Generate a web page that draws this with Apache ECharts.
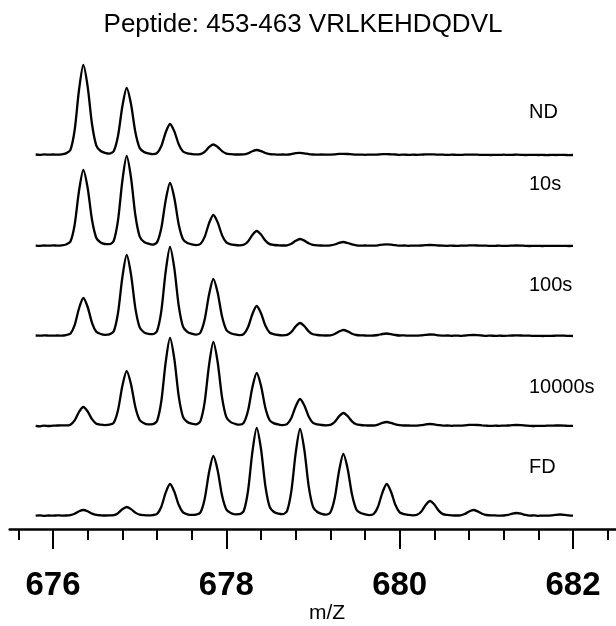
<!DOCTYPE html>
<html>
<head>
<meta charset="utf-8">
<script src="https://cdn.jsdelivr.net/npm/echarts@6/dist/echarts.min.js"></script>
<style>
html, body { margin: 0; padding: 0; background: #fff; }
#main { width: 616px; height: 626px; }
</style>
</head>
<body>
<div id="main"></div>
<script>
// m/z sampling points (shared by all spectra)
var mz = [
	675.8, 675.85, 675.9, 675.95, 676, 676.05, 676.1, 676.15, 676.2, 676.25,
	676.3, 676.35, 676.4, 676.45, 676.5, 676.55, 676.6, 676.65, 676.7, 676.75,
	676.8, 676.85, 676.9, 676.95, 677, 677.05, 677.1, 677.15, 677.2, 677.25,
	677.3, 677.35, 677.4, 677.45, 677.5, 677.55, 677.6, 677.65, 677.7, 677.75,
	677.8, 677.85, 677.9, 677.95, 678, 678.05, 678.1, 678.15, 678.2, 678.25,
	678.3, 678.35, 678.4, 678.45, 678.5, 678.55, 678.6, 678.65, 678.7, 678.75,
	678.8, 678.85, 678.9, 678.95, 679, 679.05, 679.1, 679.15, 679.2, 679.25,
	679.3, 679.35, 679.4, 679.45, 679.5, 679.55, 679.6, 679.65, 679.7, 679.75,
	679.8, 679.85, 679.9, 679.95, 680, 680.05, 680.1, 680.15, 680.2, 680.25,
	680.3, 680.35, 680.4, 680.45, 680.5, 680.55, 680.6, 680.65, 680.7, 680.75,
	680.8, 680.85, 680.9, 680.95, 681, 681.05, 681.1, 681.15, 681.2, 681.25,
	681.3, 681.35, 681.4, 681.45, 681.5, 681.55, 681.6, 681.65, 681.7, 681.75,
	681.8, 681.85, 681.9, 681.95, 682
];

// intensities
var ND = [
	0.5, 0.2, 0.6, 0.3, 0.5, 0.4, 0.6, 1.6, 4.8, 25, 65,
	90, 68.4, 31, 9.4, 4, 2.2, 1.4, 3.7, 19, 48.5,
	67, 51, 23, 7, 3, 1.6, 0.8, 1.9, 9, 22.5,
	31, 23.6, 10.8, 3.5, 1.6, 1, 0.6, 0.9, 3.2, 7.8,
	10.5, 8, 3.9, 1.4, 0.8, 0.5, 0.5, 0.6, 1.7, 3.8,
	5, 3.9, 2, 0.9, 0.6, 0.4, 0.5, 0.4, 0.9, 1.9,
	2.2, 1.7, 0.9, 0.5, 0.3, 0.5, 0.3, 0.4, 0.6, 1.1,
	1.2, 1, 0.6, 0.3, 0.4, 0.2, 0.4, 0.3, 0.5, 0.8,
	0.9, 0.7, 0.5, 0.2, 0.4, 0.1, 0.3, 0.2, 0.4, 0.6,
	0.7, 0.6, 0.3, 0.3, 0.1, 0.3, 0.2, 0.1, 0.3, 0.3,
	0.4, 0.3, 0.1, 0.2, 0, 0.2, 0.1, 0.3, 0.1, 0.2,
	0.3, 0.2, 0, 0.1, 0.2, 0, 0.1, -0.1, 0.1, 0,
	0.2, 0.1, -0.1, 0
];
var T10s = [
	0.4, 0.2, 0.5, 0.3, 0.6, 0.4, 0.6, 1.5, 4.2, 21.3, 55,
	76, 58, 26.2, 8, 3.5, 2, 1.8, 5, 25.6, 65,
	90, 68.4, 31, 9.5, 4.1, 2.3, 1.4, 3.6, 18, 45.6,
	63, 48, 21.8, 6.8, 3, 1.7, 0.9, 2, 9.1, 22.6,
	31, 23.6, 10.9, 3.6, 1.7, 1, 0.7, 1.2, 4.6, 11,
	15, 11.4, 5.4, 1.9, 1, 0.7, 0.5, 0.7, 2.3, 5.2,
	7, 5.4, 2.7, 1.1, 0.6, 0.5, 0.4, 0.6, 1.5, 3.1,
	4, 3, 1.6, 0.7, 0.4, 0.5, 0.3, 0.4, 0.7, 1.4,
	1.6, 1.3, 0.8, 0.3, 0.5, 0.2, 0.4, 0.3, 0.5, 0.9,
	1, 0.9, 0.5, 0.3, 0.2, 0.4, 0.1, 0.3, 0.3, 0.6,
	0.6, 0.5, 0.3, 0.3, 0.1, 0.2, 0.3, 0.1, 0.2, 0.4,
	0.5, 0.4, 0.2, 0, 0.2, 0.1, 0, 0.2, 0.1, 0.1,
	0.2, 0.2, 0, 0.1
];
var T100s = [
	0.5, 0.3, 0.6, 0.4, 0.3, 0.5, 0.4, 0.9, 2.2, 10.9, 27.5,
	38, 29, 13.2, 4.2, 2, 1.2, 1.6, 4.5, 23, 58.5,
	81, 61.6, 27.9, 8.6, 3.7, 2.1, 1.8, 4.9, 25.2, 64.3,
	89, 67.6, 30.6, 9.3, 4.1, 2.3, 1.3, 3.3, 16.4, 41.2,
	57, 43.3, 19.7, 6.1, 2.8, 1.6, 0.9, 1.9, 8.7, 21.8,
	30, 22.8, 10.5, 3.4, 1.7, 1, 0.7, 1.1, 4, 9.6,
	13, 9.9, 4.7, 1.7, 1, 0.6, 0.5, 0.6, 2, 4.5,
	6, 4.6, 2.3, 1, 0.6, 0.5, 0.3, 0.5, 1, 2,
	2.5, 1.9, 1, 0.5, 0.6, 0.3, 0.4, 0.3, 0.7, 1.2,
	1.5, 1.3, 0.7, 0.3, 0.5, 0.2, 0.4, 0.2, 0.5, 0.8,
	1, 0.9, 0.5, 0.2, 0.4, 0.1, 0.3, 0.2, 0.3, 0.5,
	0.6, 0.5, 0.3, 0.3, 0.1, 0.2, 0, 0.2, 0.2, 0.3,
	0.4, 0.3, 0.1, 0
];
var T10000s = [
	0.2, -0.3, 0.4, 0, 0.3, 0.5, 0.6, 0.6, 1.3, 5.6, 14,
	19, 14.5, 6.8, 2.3, 1.3, 0.9, 1.3, 3.2, 15.8, 40,
	55, 41.8, 19, 6, 2.7, 1.6, 1.8, 4.9, 25, 63.6,
	88, 67, 30.2, 9.2, 4, 2.3, 1.7, 4.7, 23.9, 60.7,
	84, 63.8, 28.9, 8.8, 3.9, 2.2, 1.3, 3.1, 15.2, 38.4,
	53, 40.3, 18.3, 5.8, 2.6, 1.6, 0.9, 1.8, 8, 19.6,
	27, 20.5, 9.5, 3.1, 1.6, 1, 0.7, 1.1, 4, 9.6,
	13, 9.9, 4.7, 1.7, 1, 0.7, 0.5, 0.5, 1.4, 3.1,
	4, 3.1, 1.7, 0.8, 0.5, 0.5, 0.3, 0.4, 0.8, 1.6,
	2, 1.6, 0.9, 0.4, 0.5, 0.2, 0.4, 0.3, 0.6, 1.1,
	1.2, 1, 0.6, 0.3, 0.1, 0.3, 0.2, 0.4, 0.5, 0.9,
	1, 0.9, 0.5, 0.2, 0, 0.2, 0.1, 0.3, 0.3, 0.5,
	0.5, 0.4, 0.1, 0.1
];
var FD = [
	0.3, 0.6, 0.2, 0.5, 0.3, 0.7, 0.4, 0.5, 0.9, 2.2, 4.7,
	6, 4.7, 2.4, 1.1, 0.7, 0.5, 0.6, 0.8, 2.8, 6.7,
	9, 6.9, 3.4, 1.3, 0.8, 0.6, 0.9, 2, 9.3, 23.3,
	32, 24.3, 11.2, 3.6, 1.7, 1.1, 1.3, 3.4, 17.1, 43.4,
	60, 45.6, 20.7, 6.4, 2.9, 1.7, 1.8, 4.9, 25, 63.6,
	88, 67, 30.2, 9.2, 4, 2.3, 1.8, 4.8, 24.8, 62.8,
	87, 66.1, 29.9, 9.1, 4, 2.2, 1.4, 3.5, 17.7, 44.8,
	62, 47.1, 21.4, 6.6, 3, 1.7, 0.9, 2, 9.3, 23.2,
	32, 24.3, 11.2, 3.6, 1.8, 1.1, 0.7, 1.2, 4.6, 11,
	15, 11.4, 5.4, 1.9, 1.1, 0.7, 0.5, 0.7, 2, 4.5,
	6, 4.6, 2.3, 1, 0.6, 0.6, 0.3, 0.5, 1.1, 2.4,
	3, 2.3, 1.1, 0.4, 0.6, 0.2, 0.4, 0.3, 0.6, 1.2,
	1.5, 1.2, 0.6, 0.3
];

var traceNames = ["ND", "10s", "100s", "10000s", "FD"];
var traces = [ND, T10s, T100s, T10000s, FD];

// layout (px)
var baseY = [155, 246, 336, 426, 516];
var nameY = [112, 184, 285, 387, 467];
var pxPerUnit = 86.67;
var x676 = 53;
var axisY = 529;

function xOf(v) {
	return x676 + (v - 676) * pxPerUnit;
}

function makeGrid(minV, maxV, top, height) {
	return {
		left: xOf(minV),
		width: (maxV - minV) * pxPerUnit,
		top: top,
		height: height,
		containLabel: false,
		outerBoundsMode: "none"
	};
}

var grids = [], xAxes = [], yAxes = [], series = [];

traces.forEach(function (vals, i) {
	grids.push(makeGrid(675.5, 682.5, baseY[i] - 100, 100));
	xAxes.push({ type: "value", gridIndex: i, min: 675.5, max: 682.5, show: false });
	yAxes.push({ type: "value", gridIndex: i, min: 0, max: 100, show: false });
	series.push({
		name: traceNames[i],
		type: "line",
		xAxisIndex: i,
		yAxisIndex: i,
		data: mz.map(function (m, k) { return [m, vals[k]]; }),
		showSymbol: false,
		smooth: 0.25,
		clip: false,
		lineStyle: { color: "#000", width: 2.3 }
	});
});

// axis line
grids.push(makeGrid(675.5, 682.5, axisY - 100, 100));
xAxes.push({
	type: "value", gridIndex: 5, min: 675.5, max: 682.5,
	axisLine: { show: true, lineStyle: { color: "#000", width: 2.5 } },
	axisTick: { show: false }, axisLabel: { show: false }, splitLine: { show: false }
});
// minor ticks
grids.push(makeGrid(675.2, 682.8, axisY - 100, 100));
xAxes.push({
	type: "value", gridIndex: 6, min: 675.2, max: 682.8, interval: 0.4,
	axisLine: { show: false },
	axisTick: { show: true, length: 11, lineStyle: { color: "#000", width: 2 } },
	axisLabel: { show: false }, splitLine: { show: false }
});
// major ticks + labels
grids.push(makeGrid(674, 684, axisY - 100, 100));
xAxes.push({
	type: "value", gridIndex: 7, min: 674, max: 684, interval: 2,
	axisLine: { show: false },
	axisTick: { show: true, length: 20, lineStyle: { color: "#000", width: 2 } },
	axisLabel: {
		show: true, margin: 40, color: "#000",
		fontFamily: "'Liberation Sans', Arial, sans-serif",
		fontWeight: "bold", fontSize: 33
	},
	splitLine: { show: false }
});
for (var g = 5; g < 8; g++) {
	yAxes.push({ type: "value", gridIndex: g, min: 0, max: 100, show: false });
}

var graphics = traceNames.map(function (n, i) {
	return {
		type: "text", x: 529, y: nameY[i],
		style: { text: n, fill: "#000", font: "20px 'Liberation Sans', Arial, sans-serif", textVerticalAlign: "middle" }
	};
});
graphics.push({
	type: "text", x: 303, y: 25,
	style: { text: "Peptide: 453-463 VRLKEHDQDVL", fill: "#000", font: "26px 'Liberation Sans', Arial, sans-serif", textAlign: "center", textVerticalAlign: "middle" }
});
graphics.push({
	type: "text", x: 327, y: 613,
	style: { text: "m/Z", fill: "#000", font: "21px 'Liberation Sans', Arial, sans-serif", textAlign: "center", textVerticalAlign: "middle" }
});

var myChart = echarts.init(document.getElementById("main"), null, { renderer: "canvas" });
myChart.setOption({
	animation: false,
	backgroundColor: "#fff",
	grid: grids,
	xAxis: xAxes,
	yAxis: yAxes,
	series: series,
	graphic: graphics
});
</script>
</body>
</html>
